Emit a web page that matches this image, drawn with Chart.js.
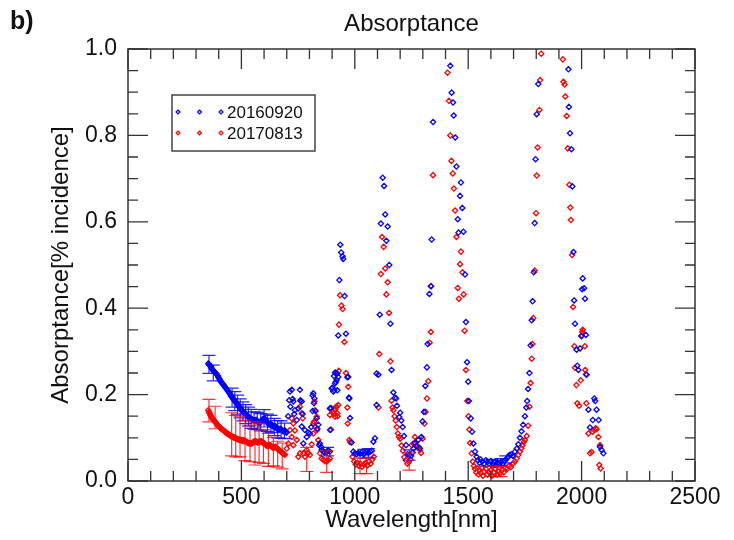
<!DOCTYPE html>
<html>
<head>
    <title>Absorptance</title>
    <script src="https://cdn.jsdelivr.net/npm/chart.js"></script>
    <style>
        body { margin: 0; background: #fff; }
        canvas { display: block; }
    </style>
</head>
<body>
    <canvas id="absChart" width="734" height="540"></canvas>
    <script>
        // series 20160920 (blue)
        const blueWl = [354, 357, 360, 363, 366, 369, 372, 375, 378, 381, 384, 388, 391, 395, 398, 402, 405, 409, 412, 416, 419, 423, 426, 430, 433, 437, 440, 444, 447, 451, 454, 458, 461, 465, 468, 472, 475, 479, 482, 486, 489, 493, 496, 500, 503, 507, 510, 514, 517, 521, 524, 528, 531, 535, 538, 542, 545, 549, 552, 556, 559, 563, 566, 570, 573, 577, 580, 584, 587, 591, 594, 598, 601, 605, 608, 612, 615, 619, 622, 626, 629, 633, 636, 640, 643, 647, 650, 654, 657, 661, 664, 668, 671, 675, 678, 682, 685, 689, 692, 696, 699,
            706, 711, 714, 716, 722, 726, 729, 733, 736, 744, 751, 758, 760, 766, 766, 770, 773, 780, 788, 795, 802, 808, 814, 814, 817, 820, 822, 827, 832, 835, 839, 843, 846, 851, 854, 862, 868, 876, 883, 890, 891, 890, 895, 898, 901, 905, 908, 910, 913, 913, 916, 917, 920, 923, 923, 927, 927, 932, 936, 940, 946, 949, 955, 961, 967, 971, 974, 976, 979, 986,
            993, 1000, 1008, 1015, 1023, 1030, 1038, 1045, 1052, 1060, 1067, 1075, 1082, 1089, 1096, 1096, 1104, 1110, 1115, 1123, 1129, 1134, 1139, 1145, 1152, 1157, 1162, 1170, 1177, 1182, 1186, 1196, 1200, 1205, 1211, 1217, 1226, 1233, 1240, 1248, 1255, 1258, 1265, 1272, 1280, 1287, 1294, 1299, 1305, 1311, 1318, 1321, 1329, 1335, 1339, 1345,
            1421, 1427, 1433, 1436, 1443, 1448, 1454, 1457, 1464, 1468, 1474, 1479, 1486, 1490, 1495, 1500, 1503, 1511, 1517, 1523, 1530, 1537, 1543, 1550, 1555, 1562, 1570, 1578, 1585, 1592, 1600, 1608, 1615, 1622, 1630, 1638, 1645, 1652, 1660, 1667, 1675, 1682, 1690, 1697, 1706, 1714, 1721, 1728, 1735, 1742, 1750, 1756, 1760, 1764, 1770, 1775, 1780, 1784, 1789, 1793, 1797, 1802, 1809,
            1942, 1944, 1949, 1955, 1959, 1964, 1967, 1971, 1978, 1981, 1986, 1993, 1999, 2002, 2005, 2011, 2015, 2019, 2022, 2030, 2037, 2049, 2056, 2060, 2066, 2075, 2081, 2088, 2096];
        const blueAbs = [0.272, 0.270, 0.268, 0.266, 0.264, 0.261, 0.258, 0.256, 0.254, 0.253, 0.251, 0.249, 0.247, 0.244, 0.241, 0.237, 0.234, 0.231, 0.228, 0.226, 0.224, 0.221, 0.219, 0.216, 0.214, 0.211, 0.209, 0.206, 0.203, 0.200, 0.197, 0.195, 0.192, 0.189, 0.187, 0.185, 0.183, 0.180, 0.178, 0.175, 0.172, 0.170, 0.167, 0.165, 0.163, 0.161, 0.160, 0.158, 0.156, 0.154, 0.152, 0.150, 0.149, 0.147, 0.146, 0.144, 0.143, 0.142, 0.141, 0.140, 0.140, 0.141, 0.141, 0.139, 0.137, 0.135, 0.134, 0.136, 0.138, 0.141, 0.143, 0.144, 0.145, 0.143, 0.141, 0.138, 0.135, 0.133, 0.131, 0.132, 0.133, 0.131, 0.128, 0.126, 0.125, 0.126, 0.127, 0.125, 0.122, 0.120, 0.118, 0.119, 0.121, 0.120, 0.118, 0.116, 0.115, 0.116, 0.117, 0.114, 0.112,
            0.150, 0.187, 0.207, 0.172, 0.211, 0.190, 0.184, 0.155, 0.164, 0.141, 0.168, 0.211, 0.187, 0.184, 0.126, 0.155, 0.087, 0.118, 0.102, 0.112, 0.110, 0.125, 0.162, 0.198, 0.203, 0.180, 0.191, 0.162, 0.145, 0.121, 0.130, 0.083, 0.087, 0.079, 0.072, 0.068, 0.066, 0.068, 0.070, 0.068, 0.118, 0.168, 0.169, 0.214, 0.216, 0.207, 0.243, 0.210, 0.226, 0.251, 0.229, 0.249, 0.234, 0.249, 0.210, 0.241, 0.337, 0.465, 0.547, 0.529, 0.520, 0.514, 0.428, 0.341, 0.240, 0.241, 0.193, 0.191, 0.146, 0.089,
            0.068, 0.064, 0.062, 0.065, 0.063, 0.066, 0.062, 0.064, 0.067, 0.065, 0.068, 0.070, 0.091, 0.099, 0.176, 0.249, 0.246, 0.385, 0.596, 0.702, 0.683, 0.617, 0.556, 0.589, 0.500, 0.364, 0.257, 0.205, 0.193, 0.191, 0.174, 0.148, 0.158, 0.140, 0.125, 0.104, 0.083, 0.062, 0.060, 0.058, 0.066, 0.075, 0.088, 0.080, 0.095, 0.076, 0.102, 0.138, 0.160, 0.220, 0.263, 0.317, 0.433, 0.451, 0.559, 0.831,
            0.961, 0.899, 0.876, 0.846, 0.795, 0.728, 0.606, 0.575, 0.660, 0.691, 0.632, 0.577, 0.478, 0.368, 0.275, 0.230, 0.185, 0.145, 0.114, 0.087, 0.068, 0.056, 0.048, 0.042, 0.050, 0.045, 0.040, 0.048, 0.044, 0.040, 0.046, 0.040, 0.043, 0.038, 0.042, 0.040, 0.044, 0.040, 0.047, 0.050, 0.055, 0.060, 0.062, 0.058, 0.068, 0.075, 0.085, 0.100, 0.115, 0.130, 0.150, 0.170, 0.185, 0.213, 0.250, 0.314, 0.372, 0.416, 0.483, 0.597, 0.745, 0.849, 0.919,
            0.953, 0.866, 0.805, 0.768, 0.682, 0.530, 0.418, 0.364, 0.304, 0.267, 0.257, 0.307, 0.335, 0.444, 0.469, 0.446, 0.422, 0.338, 0.246, 0.165, 0.124, 0.141, 0.191, 0.185, 0.165, 0.141, 0.079, 0.072, 0.064];

        // series 20170813 (red)
        const redWl = [354, 357, 360, 363, 366, 369, 372, 375, 378, 381, 384, 388, 391, 395, 398, 402, 405, 409, 412, 416, 419, 423, 426, 430, 433, 437, 440, 444, 447, 451, 454, 458, 461, 465, 468, 472, 475, 479, 482, 486, 489, 493, 496, 500, 503, 507, 510, 514, 517, 521, 524, 528, 531, 535, 538, 542, 545, 549, 552, 556, 559, 563, 566, 570, 573, 577, 580, 584, 587, 591, 594, 598, 601, 605, 608, 612, 615, 619, 622, 626, 629, 633, 636, 640, 643, 647, 650, 654, 657, 661, 664, 668, 671, 675, 678, 682, 685, 689, 692,
            700, 707, 714, 722, 722, 729, 729, 736, 744, 751, 758, 758, 761, 766, 770, 773, 780, 788, 795, 802, 810, 817, 817, 820, 822, 824, 826, 832, 834, 839, 846, 854, 861, 868, 876, 883, 890, 890, 895, 905, 907, 913, 914, 917, 920, 923, 924, 927, 929, 930, 935, 941, 946, 954, 961, 967, 969, 971, 976, 979,
            990, 997, 1004, 1011, 1018, 1025, 1032, 1040, 1047, 1055, 1062, 1070, 1077, 1084, 1104, 1108, 1115, 1120, 1127, 1134, 1139, 1145, 1151, 1157, 1162, 1166, 1170, 1175, 1180, 1185, 1190, 1195, 1200, 1206, 1212, 1218, 1225, 1232, 1238, 1245, 1251, 1258, 1265, 1273, 1280, 1287, 1292, 1299, 1307, 1312, 1318, 1324, 1330, 1335, 1337, 1345,
            1409, 1415, 1421, 1426, 1432, 1437, 1442, 1448, 1454, 1459, 1464, 1468, 1474, 1480, 1484, 1490, 1496, 1501, 1505, 1508, 1515, 1520, 1525, 1530, 1535, 1540, 1545, 1550, 1555, 1560, 1565, 1570, 1578, 1585, 1592, 1600, 1605, 1612, 1620, 1628, 1635, 1642, 1650, 1657, 1665, 1672, 1680, 1688, 1699, 1706, 1714, 1721, 1728, 1734, 1740, 1745, 1750, 1758, 1764, 1770, 1775, 1780, 1783, 1787, 1793, 1799, 1802, 1806, 1814, 1817, 1822,
            1917, 1920, 1925, 1928, 1934, 1939, 1946, 1950, 1953, 1958, 1962, 1968, 1971, 1977, 1981, 1989, 1996, 2000, 2003, 2005, 2014, 2016, 2019, 2021, 2030, 2037, 2044, 2049, 2056, 2062, 2066, 2074, 2078, 2081, 2084];
        const redAbs = [0.164, 0.160, 0.157, 0.153, 0.150, 0.147, 0.145, 0.143, 0.141, 0.139, 0.137, 0.134, 0.132, 0.130, 0.128, 0.126, 0.124, 0.122, 0.121, 0.119, 0.118, 0.116, 0.115, 0.113, 0.112, 0.110, 0.109, 0.108, 0.107, 0.105, 0.104, 0.103, 0.102, 0.101, 0.101, 0.100, 0.099, 0.098, 0.097, 0.096, 0.096, 0.095, 0.095, 0.094, 0.094, 0.094, 0.094, 0.093, 0.092, 0.091, 0.090, 0.089, 0.088, 0.087, 0.087, 0.087, 0.087, 0.088, 0.090, 0.091, 0.092, 0.092, 0.091, 0.090, 0.089, 0.090, 0.091, 0.092, 0.092, 0.091, 0.089, 0.088, 0.087, 0.085, 0.083, 0.082, 0.081, 0.082, 0.083, 0.083, 0.082, 0.080, 0.078, 0.077, 0.077, 0.078, 0.079, 0.077, 0.075, 0.074, 0.073, 0.071, 0.069, 0.067, 0.066, 0.064, 0.063, 0.062, 0.061,
            0.075, 0.087, 0.118, 0.145, 0.102, 0.133, 0.083, 0.117, 0.095, 0.056, 0.172, 0.064, 0.185, 0.157, 0.145, 0.064, 0.056, 0.072, 0.065, 0.060, 0.085, 0.133, 0.110, 0.137, 0.184, 0.164, 0.125, 0.149, 0.118, 0.095, 0.064, 0.052, 0.049, 0.046, 0.045, 0.048, 0.052, 0.153, 0.119, 0.160, 0.156, 0.149, 0.166, 0.172, 0.172, 0.157, 0.150, 0.176, 0.255, 0.362, 0.430, 0.406, 0.398, 0.322, 0.250, 0.170, 0.133, 0.218, 0.095, 0.090,
            0.056, 0.045, 0.038, 0.042, 0.035, 0.040, 0.033, 0.038, 0.042, 0.036, 0.045, 0.040, 0.050, 0.056, 0.170, 0.294, 0.479, 0.565, 0.542, 0.492, 0.432, 0.460, 0.389, 0.277, 0.186, 0.170, 0.164, 0.150, 0.140, 0.125, 0.110, 0.102, 0.098, 0.082, 0.070, 0.055, 0.048, 0.040, 0.044, 0.050, 0.083, 0.087, 0.102, 0.083, 0.078, 0.072, 0.065, 0.098, 0.133, 0.160, 0.191, 0.231, 0.320, 0.345, 0.451, 0.708,
            0.945, 0.880, 0.800, 0.741, 0.712, 0.677, 0.626, 0.565, 0.447, 0.422, 0.502, 0.531, 0.483, 0.432, 0.348, 0.257, 0.185, 0.150, 0.119, 0.088, 0.064, 0.045, 0.035, 0.028, 0.020, 0.030, 0.015, 0.025, 0.018, 0.030, 0.012, 0.022, 0.028, 0.015, 0.020, 0.025, 0.012, 0.020, 0.028, 0.015, 0.022, 0.018, 0.025, 0.020, 0.030, 0.028, 0.035, 0.032, 0.041, 0.045, 0.052, 0.060, 0.068, 0.075, 0.083, 0.090, 0.095, 0.104, 0.128, 0.172, 0.227, 0.283, 0.317, 0.377, 0.487, 0.620, 0.707, 0.772, 0.859, 0.928, 0.989,
            0.976, 0.924, 0.918, 0.890, 0.845, 0.770, 0.686, 0.633, 0.604, 0.523, 0.403, 0.312, 0.262, 0.222, 0.180, 0.174, 0.233, 0.337, 0.345, 0.350, 0.312, 0.257, 0.247, 0.180, 0.110, 0.064, 0.067, 0.114, 0.118, 0.122, 0.120, 0.102, 0.037, 0.083, 0.029];

        // error bars: wavelength, centre, half length
        const blueErrWl = [357, 376, 459, 471, 483, 495, 507, 519, 531, 543, 556, 570, 585, 600, 615, 630, 645, 660, 675, 690, 880, 1040, 1060, 1240, 1605, 1625, 1645, 1665];
        const blueErrVal = [0.270, 0.250, 0.193, 0.185, 0.177, 0.168, 0.161, 0.155, 0.149, 0.144, 0.140, 0.139, 0.136, 0.145, 0.135, 0.132, 0.125, 0.120, 0.119, 0.116, 0.068, 0.063, 0.065, 0.060, 0.042, 0.040, 0.044, 0.050];
        const blueErrSize = [0.021, 0.018, 0.022, 0.022, 0.022, 0.022, 0.022, 0.022, 0.022, 0.022, 0.020, 0.020, 0.020, 0.020, 0.020, 0.020, 0.020, 0.020, 0.020, 0.018, 0.010, 0.010, 0.010, 0.012, 0.008, 0.008, 0.008, 0.008];
        const redErrWl = [357, 384, 457, 475, 494, 516, 538, 560, 578, 597, 619, 641, 660, 680, 788, 876, 1023, 1052, 1240, 1605, 1625, 1645];
        const redErrVal = [0.163, 0.147, 0.108, 0.104, 0.103, 0.094, 0.087, 0.087, 0.088, 0.080, 0.072, 0.068, 0.062, 0.058, 0.050, 0.045, 0.035, 0.035, 0.045, 0.022, 0.022, 0.022];
        const redErrSize = [0.026, 0.026, 0.050, 0.048, 0.047, 0.047, 0.042, 0.050, 0.045, 0.039, 0.038, 0.033, 0.030, 0.030, 0.028, 0.025, 0.018, 0.018, 0.020, 0.012, 0.012, 0.012];

        const xTickLabels = ['0', '500', '1000', '1500', '2000', '2500'];
        const yTickLabels = ['0.0', '0.2', '0.4', '0.6', '0.8', '1.0'];

        const FONT = "'Liberation Sans', Arial, Helvetica, sans-serif";
        const INK = '#111';
        const FRAME = '#333';

        Chart.defaults.font.family = FONT;
        Chart.defaults.color = INK;

        const toPoints = (xs, ys) => xs.map((x, i) => ({ x: x, y: ys[i] }));
        const isMajorX = v => Math.abs(v / 500 - Math.round(v / 500)) < 1e-6;
        const isMajorY = v => Math.abs(v * 5 - Math.round(v * 5)) < 1e-6;

        const errorBars = {
            id: 'errorBars',
            afterDatasetsDraw(chart) {
                const ctx = chart.ctx;
                const xs = chart.scales.x, ys = chart.scales.y;
                chart.data.datasets.forEach(ds => {
                    const e = ds.errors;
                    if (!e) return;
                    ctx.save();
                    ctx.strokeStyle = ds.errColor;
                    ctx.lineWidth = 1.2;
                    e.wl.forEach((w, i) => {
                        const px = xs.getPixelForValue(w);
                        const top = ys.getPixelForValue(e.val[i] + e.size[i]);
                        const bot = ys.getPixelForValue(e.val[i] - e.size[i]);
                        ctx.beginPath();
                        ctx.moveTo(px, top); ctx.lineTo(px, bot);
                        ctx.moveTo(px - 6.5, top); ctx.lineTo(px + 6.5, top);
                        ctx.moveTo(px - 6.5, bot); ctx.lineTo(px + 6.5, bot);
                        ctx.stroke();
                    });
                    ctx.restore();
                });
            }
        };

        function diamond(ctx, x, y, r) {
            ctx.beginPath();
            ctx.moveTo(x, y - r); ctx.lineTo(x + r, y);
            ctx.lineTo(x, y + r); ctx.lineTo(x - r, y);
            ctx.closePath();
            ctx.stroke();
        }

        const frame = {
            id: 'frame',
            afterDraw(chart) {
                const ctx = chart.ctx;
                const a = chart.chartArea;
                const xs = chart.scales.x, ys = chart.scales.y;
                ctx.save();
                ctx.strokeStyle = FRAME;
                ctx.lineWidth = 1.5;
                ctx.strokeRect(a.left, a.top, a.right - a.left, a.bottom - a.top);

                // inward ticks on all four sides
                ctx.lineWidth = 1.3;
                ctx.beginPath();
                xs.ticks.forEach(t => {
                    const px = xs.getPixelForValue(t.value);
                    const len = isMajorX(t.value) ? 20 : 10;
                    ctx.moveTo(px, a.bottom); ctx.lineTo(px, a.bottom - len);
                    ctx.moveTo(px, a.top); ctx.lineTo(px, a.top + len);
                });
                ys.ticks.forEach(t => {
                    const py = ys.getPixelForValue(t.value);
                    const len = isMajorY(t.value) ? 20 : 10;
                    ctx.moveTo(a.left, py); ctx.lineTo(a.left + len, py);
                    ctx.moveTo(a.right, py); ctx.lineTo(a.right - len, py);
                });
                ctx.stroke();

                // legend box
                const lx = 172, ly = 95, lw = 143, lh = 56;
                ctx.fillStyle = '#fff';
                ctx.fillRect(lx, ly, lw, lh);
                ctx.strokeStyle = '#444';
                ctx.lineWidth = 1.5;
                ctx.strokeRect(lx, ly, lw, lh);
                chart.data.datasets.forEach((ds, i) => {
                    const y = 112 + i * 21;
                    ctx.strokeStyle = ds.borderColor;
                    ctx.lineWidth = 1.2;
                    [178, 199.5, 221].forEach(x => diamond(ctx, x, y, 2));
                    ctx.fillStyle = INK;
                    ctx.font = '17px ' + FONT;
                    ctx.textAlign = 'left';
                    ctx.textBaseline = 'middle';
                    ctx.fillText(ds.label, 227, y + 1);
                });

                // panel letter and title
                ctx.fillStyle = INK;
                ctx.textBaseline = 'alphabetic';
                ctx.textAlign = 'left';
                ctx.font = 'bold 25px ' + FONT;
                ctx.fillText('b)', 10, 29);
                ctx.textAlign = 'center';
                ctx.font = '24px ' + FONT;
                ctx.fillText('Absorptance', (a.left + a.right) / 2, 31);
                ctx.restore();
            }
        };

        const pointStyle = color => ({
            showLine: false,
            pointStyle: 'rectRot',
            pointRadius: 2.6,
            pointBorderWidth: 1.3,
            borderColor: color,
            pointBorderColor: color,
            backgroundColor: 'rgba(0,0,0,0)',
            pointBackgroundColor: 'rgba(0,0,0,0)'
        });

        new Chart(document.getElementById('absChart'), {
            type: 'scatter',
            data: {
                datasets: [
                    Object.assign({
                        label: '20160920',
                        data: toPoints(blueWl, blueAbs),
                        errors: { wl: blueErrWl, val: blueErrVal, size: blueErrSize },
                        errColor: 'rgba(0,0,255,0.85)'
                    }, pointStyle('#0000ff')),
                    Object.assign({
                        label: '20170813',
                        data: toPoints(redWl, redAbs),
                        errors: { wl: redErrWl, val: redErrVal, size: redErrSize },
                        errColor: 'rgba(255,0,0,0.8)'
                    }, pointStyle('#ff0000'))
                ]
            },
            options: {
                responsive: false,
                animation: false,
                layout: { padding: { left: 0, right: 39, top: 49, bottom: 0 } },
                plugins: { legend: { display: false }, tooltip: { enabled: false } },
                scales: {
                    x: {
                        type: 'linear',
                        min: 0,
                        max: 2500,
                        afterFit(s) { s.height = 59; },
                        grid: { display: false, drawTicks: false },
                        border: { display: false },
                        ticks: {
                            stepSize: 100,
                            autoSkip: false,
                            maxRotation: 0,
                            padding: 3,
                            color: INK,
                            font: { size: 23 },
                            callback: v => isMajorX(v) ? xTickLabels[Math.round(v / 500)] : ''
                        },
                        title: {
                            display: true,
                            text: 'Wavelength[nm]',
                            color: INK,
                            font: { size: 24 },
                            padding: { top: 0, bottom: 5 }
                        }
                    },
                    y: {
                        min: 0,
                        max: 1,
                        afterFit(s) { s.width = 128; },
                        grid: { display: false, drawTicks: false },
                        border: { display: false },
                        ticks: {
                            stepSize: 0.05,
                            autoSkip: false,
                            padding: 11,
                            color: INK,
                            font: { size: 23 },
                            callback: v => isMajorY(v) ? yTickLabels[Math.round(v * 5)] : ''
                        },
                        title: {
                            display: true,
                            text: 'Absorptance[% incidence]',
                            color: INK,
                            font: { size: 24 },
                            padding: { top: 47, bottom: 0 }
                        }
                    }
                }
            },
            plugins: [errorBars, frame]
        });
    </script>
</body>
</html>
